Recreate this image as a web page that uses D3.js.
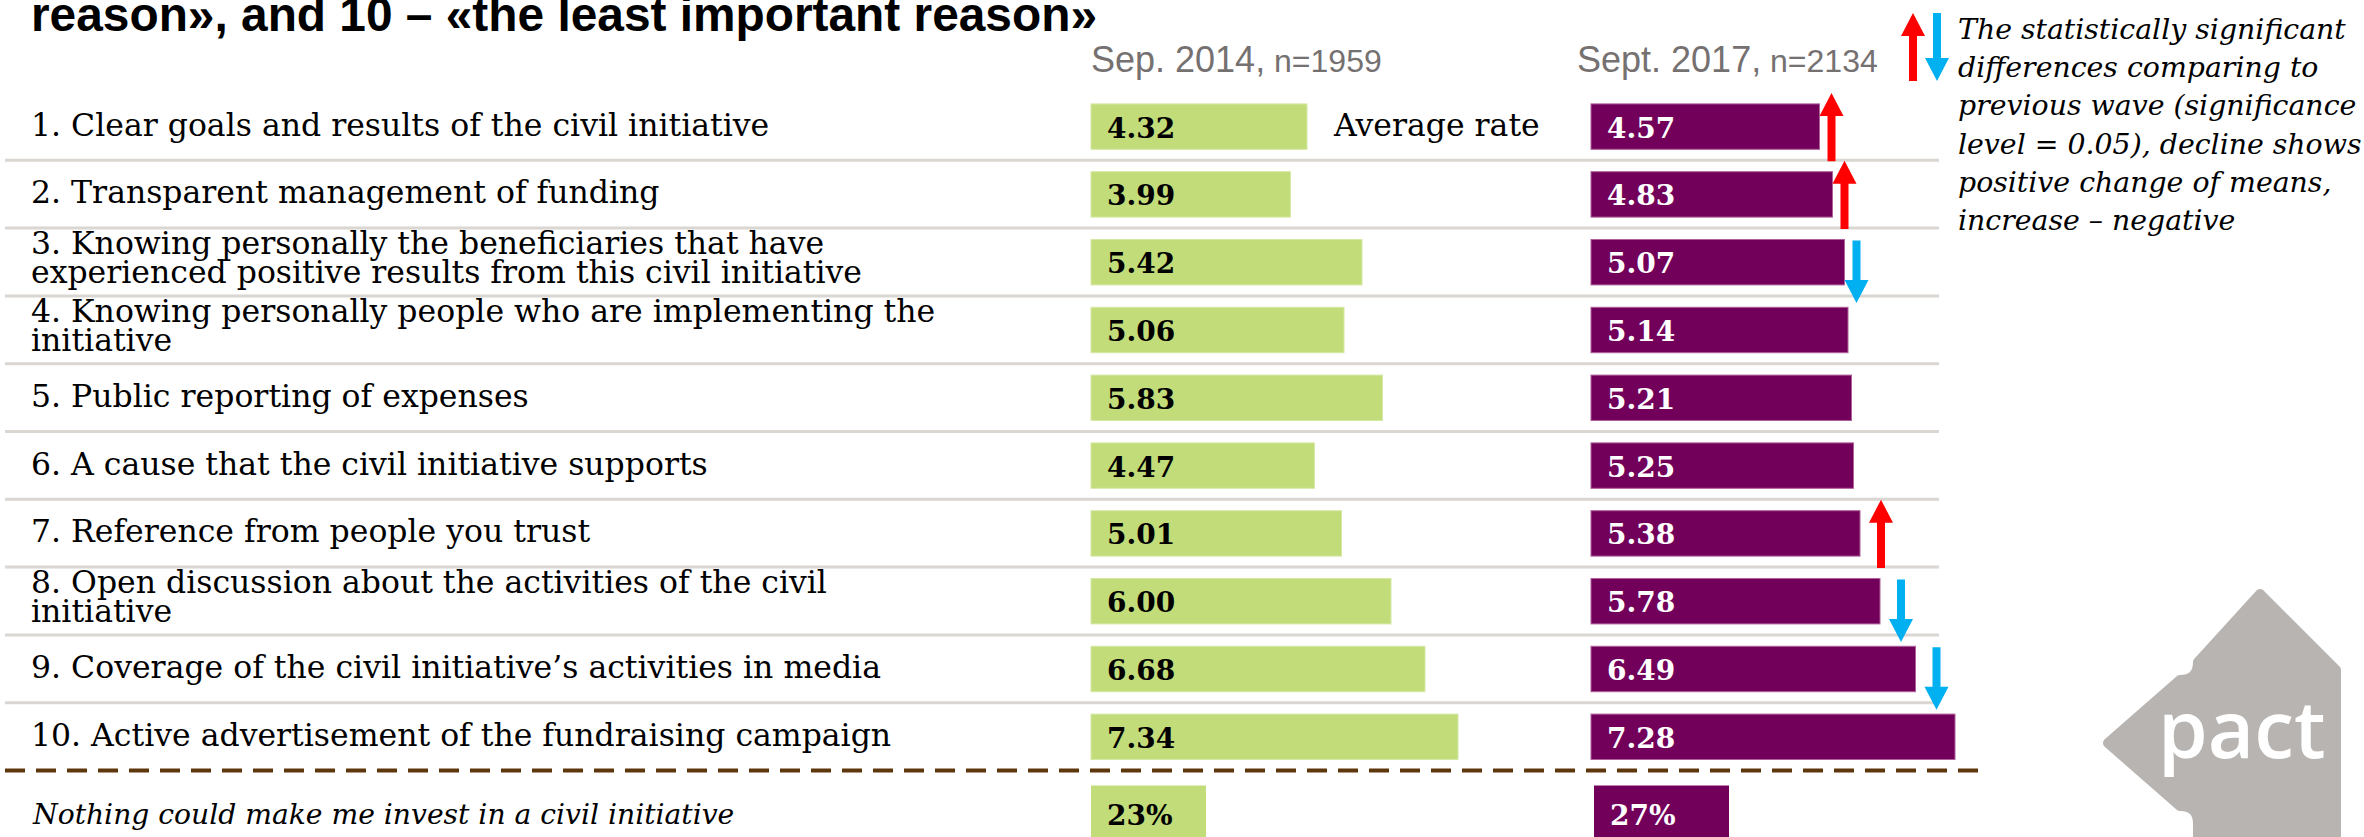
<!DOCTYPE html>
<html>
<head>
<meta charset="utf-8">
<script src="https://cdn.jsdelivr.net/npm/d3@7"></script>
<style>
  body { margin: 0; background: #fff; }
  svg { display: block; }
</style>
</head>
<body>
<div id="chart"></div>
<script>
// Data
const titleText = "reason», and 10 – «the least important reason»";
const reasons = [
  ["1. Clear goals and results of the civil initiative"],
  ["2. Transparent management of funding"],
  ["3. Knowing personally the beneficiaries that have", "experienced positive results from this civil initiative"],
  ["4. Knowing personally people who are implementing the", "initiative"],
  ["5. Public reporting of expenses"],
  ["6. A cause that the civil initiative supports"],
  ["7. Reference from people you trust"],
  ["8. Open discussion about the activities of the civil", "initiative"],
  ["9. Coverage of the civil initiative’s activities in media"],
  ["10. Active advertisement of the fundraising campaign"]
];
const rate2014 = [4.32, 3.99, 5.42, 5.06, 5.83, 4.47, 5.01, 6.00, 6.68, 7.34];
const rate2017 = [4.57, 4.83, 5.07, 5.14, 5.21, 5.25, 5.38, 5.78, 6.49, 7.28];
// significant change vs previous wave
const change2017 = ["up", "up", "down", null, null, null, "up", "down", "down", null];
const waveNames = ["Sep. 2014,", "Sept. 2017,"];
const waveSizes = ["n=1959", "n=2134"];
const nothingLabel = "Nothing could make me invest in a civil initiative";
const nothingPct = [23, 27];
const legendLines = [
  "The statistically significant",
  "differences comparing to",
  "previous wave (significance",
  "level = 0.05), decline shows",
  "positive change of means,",
  "increase – negative"
];

// Configuration
const width = 2364;
const height = 837;
const labelX = 31;
const colX = [1091, 1591];
const green = "#c1dc79";
const purple = "#72005a";
const red = "#ff0000";
const blue = "#00b0f0";
const serif = "'DejaVu Serif', serif";
const sans = "'Liberation Sans', Arial, sans-serif";
const fmt = d3.format(".2f");

const xRate = d3.scaleLinear().domain([0, 10]).range([0, 500]);
const xPct = d3.scaleLinear().domain([0, 100]).range([0, 500]);
const y = d3.scaleBand()
  .domain(d3.range(reasons.length))
  .range([92.7, 92.7 + 678])
  .paddingInner(0.33)
  .paddingOuter(0.165);
const bw = y.bandwidth();

const svg = d3.select("#chart")
  .append("svg")
    .attr("width", width)
    .attr("height", height);

svg.append("rect")
  .attr("width", width)
  .attr("height", height)
  .attr("fill", "#fff");

// Title (first line is cut off in the slide)
svg.append("text")
  .attr("x", labelX)
  .attr("y", 31)
  .attr("font-family", sans)
  .attr("font-weight", "bold")
  .attr("font-size", 48)
  .attr("textLength", 1066)
  .attr("lengthAdjust", "spacingAndGlyphs")
  .text(titleText);

// Column headers
waveNames.forEach(function(name, i) {
  const t = svg.append("text")
    .attr("x", i === 0 ? colX[0] : colX[1] - 14)
    .attr("y", 72)
    .attr("font-family", sans)
    .attr("font-size", 36)
    .attr("fill", "#767171")
    .text(name);
  t.append("tspan")
    .attr("font-size", 32)
    .text(" " + waveSizes[i]);
});

// Row separators
svg.selectAll("line.sep")
  .data(d3.range(reasons.length - 1))
  .join("line")
    .attr("class", "sep")
    .attr("x1", 5)
    .attr("x2", 1939)
    .attr("y1", function(d) { return y(d) + bw + 11; })
    .attr("y2", function(d) { return y(d) + bw + 11; })
    .attr("stroke", "#dad6d1")
    .attr("stroke-width", 3);

svg.append("line")
  .attr("x1", 5)
  .attr("x2", 1980)
  .attr("y1", y(reasons.length - 1) + bw + 11)
  .attr("y2", y(reasons.length - 1) + bw + 11)
  .attr("stroke", "#5e370c")
  .attr("stroke-width", 4)
  .attr("stroke-dasharray", "20 11");

// Row labels
const labels = svg.selectAll("text.reason")
  .data(reasons)
  .join("text")
    .attr("class", "reason")
    .attr("font-family", serif)
    .attr("font-size", 31.5)
    .attr("fill", "#000");

labels.each(function(lines, i) {
  const mid = y(i) + bw / 2;
  d3.select(this).selectAll("tspan")
    .data(lines)
    .join("tspan")
      .attr("x", labelX)
      .attr("y", function(d, j) {
        if (lines.length === 1) return mid + 9;
        return j === 0 ? mid - 8 : mid + 21;
      })
      .text(function(d) { return d; });
});

// Bars
const series = [rate2014, rate2017];
series.forEach(function(values, s) {
  svg.selectAll("rect.bar" + s)
    .data(values)
    .join("rect")
      .attr("class", "bar" + s)
      .attr("x", colX[s])
      .attr("y", function(d, i) { return y(i); })
      .attr("width", function(d) { return xRate(d); })
      .attr("height", bw)
      .attr("fill", s === 0 ? green : purple)
      .attr("stroke", s === 0 ? "#d5e9a6" : "#b0609a")
      .attr("stroke-width", 1);

  svg.selectAll("text.val" + s)
    .data(values)
    .join("text")
      .attr("class", "val" + s)
      .attr("x", colX[s] + 16)
      .attr("y", function(d, i) { return y(i) + bw / 2 + 11; })
      .attr("font-family", serif)
      .attr("font-weight", "bold")
      .attr("font-size", 28)
      .attr("fill", s === 0 ? "#000" : "#fff")
      .text(function(d) { return fmt(d); });
});

svg.append("text")
  .attr("x", 1334)
  .attr("y", y(0) + bw / 2 + 9)
  .attr("font-family", serif)
  .attr("font-size", 31.5)
  .text("Average rate");

// Arrows
function arrowPath(x, yTop, yBottom, dir) {
  const hw = 12, sw = 4, hl = 23;
  if (dir === "up") {
    return `M${x},${yTop} L${x + hw},${yTop + hl} L${x + sw},${yTop + hl} L${x + sw},${yBottom}
      L${x - sw},${yBottom} L${x - sw},${yTop + hl} L${x - hw},${yTop + hl} Z`;
  }
  return `M${x},${yBottom} L${x + hw},${yBottom - hl} L${x + sw},${yBottom - hl} L${x + sw},${yTop}
    L${x - sw},${yTop} L${x - sw},${yBottom - hl} L${x - hw},${yBottom - hl} Z`;
}

svg.selectAll("path.change")
  .data(change2017.map(function(c, i) { return {dir: c, i: i}; }).filter(function(d) { return d.dir; }))
  .join("path")
    .attr("class", "change")
    .attr("d", function(d) {
      const x = colX[1] + xRate(rate2017[d.i]) + (d.i < 5 ? 12 : 21);
      if (d.dir === "up") return arrowPath(x, y(d.i) - 11, y(d.i) + bw + 12, "up");
      return arrowPath(x, y(d.i) + 1, y(d.i) + bw + 18, "down");
    })
    .attr("fill", function(d) { return d.dir === "up" ? red : blue; });

// Legend
svg.append("path").attr("d", arrowPath(1913, 13, 81, "up")).attr("fill", red);
svg.append("path").attr("d", arrowPath(1937, 13, 81, "down")).attr("fill", blue);

const legend = svg.append("text")
  .attr("font-family", serif)
  .attr("font-style", "italic")
  .attr("font-size", 27);
legend.selectAll("tspan")
  .data(legendLines)
  .join("tspan")
    .attr("x", 1958)
    .attr("y", function(d, i) { return 39 + i * 38.2; })
    .text(function(d) { return d; });
// fit first line to the width it has on the slide
const firstLen = legend.select("tspan").node().getComputedTextLength();
legend.attr("font-size", 27 * 388 / firstLen);

// "Nothing" row
const nothingTop = y(reasons.length - 1) + bw + 26;
svg.append("text")
  .attr("x", labelX + 2)
  .attr("y", nothingTop + 38)
  .attr("font-family", serif)
  .attr("font-style", "italic")
  .attr("font-size", 28.2)
  .text(nothingLabel);

svg.selectAll("rect.nothing")
  .data(nothingPct)
  .join("rect")
    .attr("class", "nothing")
    .attr("x", function(d, i) { return colX[i] + i * 3; })
    .attr("y", nothingTop)
    .attr("width", function(d) { return xPct(d); })
    .attr("height", 54)
    .attr("fill", function(d, i) { return i === 0 ? green : purple; });

svg.selectAll("text.nothingVal")
  .data(nothingPct)
  .join("text")
    .attr("class", "nothingVal")
    .attr("x", function(d, i) { return colX[i] + i * 3 + 16; })
    .attr("y", nothingTop + 39)
    .attr("font-family", serif)
    .attr("font-weight", "bold")
    .attr("font-size", 28)
    .attr("fill", function(d, i) { return i === 0 ? "#000" : "#fff"; })
    .text(function(d) { return d + "%"; });

// Logo
const logo = svg.append("g");
logo.append("path")
  .attr("d", "M2260,594 L2336,670 L2336,845 L2198,845 L2198,824 Q2198,806 2180,806 L2108,743 L2180,680 Q2198,680 2198,662 Z")
  .attr("fill", "#b7b4b1")
  .attr("stroke", "#b7b4b1")
  .attr("stroke-width", 10)
  .attr("stroke-linejoin", "round");
logo.append("text")
  .attr("x", 2158)
  .attr("y", 758)
  .attr("font-family", "'Open Sans', sans-serif")
  .attr("font-weight", 600)
  .attr("font-size", 80)
  .attr("fill", "#fff")
  .text("pact");
</script>
</body>
</html>
